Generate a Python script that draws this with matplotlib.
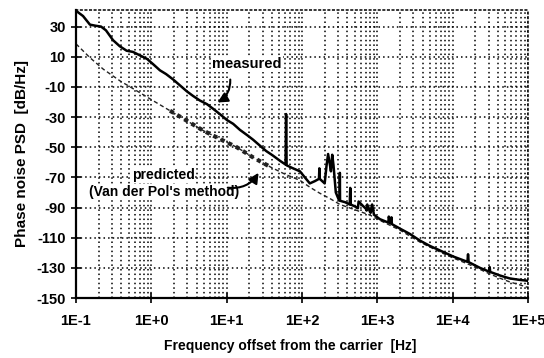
import numpy as np
import matplotlib
matplotlib.use("Agg")
import matplotlib.pyplot as plt
from matplotlib.ticker import LogLocator, FixedLocator, NullFormatter

# Measured phase noise PSD, spikes included
measured_hz = [0.1, 0.124, 0.153, 0.18, 0.215, 0.25, 0.31, 0.38, 0.47, 0.57,
               0.7, 0.88, 1.06, 1.3, 1.57, 1.94, 2.4, 2.97, 3.58, 4.4,
               5.5, 6.6, 8.1, 10.1, 12.2, 15, 18.7, 22.4, 27.7, 33.4,
               41, 51, 60.5, 61.5, 62.5, 76, 94, 109, 127, 148,
               168, 170, 172, 200, 212, 222, 232, 242, 252, 262,
               281, 306, 316, 318, 320, 375, 430, 437, 444, 540,
               552, 564, 709, 720, 735, 800, 815, 853, 900, 915,
               1080, 1400, 1420, 1480, 1540, 1560, 2000, 2700, 3700, 5000,
               6800, 10200, 15700, 16000, 16300, 23000, 30500, 31000, 31500, 42000,
               57000, 78000, 100000]
measured_db = [40.5, 37, 31.3, 30.6, 30, 27.5, 21, 17, 14, 13.2,
               11, 8.5, 5, 1, -1.5, -5, -9, -13, -16, -19,
               -21.5, -24.5, -28, -32, -34.5, -38.5, -42, -45, -49, -52.5,
               -55.5, -59, -61.5, -28, -62, -64, -66, -70, -74, -72.5,
               -71, -64, -71, -74, -62, -54.5, -60, -66, -55, -62,
               -80, -84.5, -85, -67, -85.5, -86.5, -88, -77, -88, -90,
               -90.5, -86, -91, -92, -88, -93, -93.5, -88, -94.5, -95,
               -97.7, -100, -96, -100.5, -96.5, -101, -104, -107.5, -112, -115.5,
               -118.5, -122.5, -126, -121, -126.2, -130, -132.5, -129.5, -132.7, -135,
               -137, -138, -138.6]

# Predicted (Van der Pol's method)
predicted_hz = [0.1, 0.107, 0.153, 0.231, 0.384, 0.64, 1.06, 1.77, 2.95, 4.9,
                8.1, 13.6, 22, 37.7, 60, 94, 127, 172, 234, 320,
                505, 800, 1080, 2000, 3700, 6800, 10200, 16000, 23000, 31000,
                42000, 57000, 78000, 100000]
predicted_db = [18.5, 17.1, 9.4, 1.7, -6, -12.6, -19.2, -25.8, -32.4, -39,
                -44.5, -50, -56.5, -63, -68, -72, -76.5, -80.5, -84, -88,
                -91.5, -95, -98.5, -105, -113, -119.5, -123.5, -127.5, -131, -134,
                -136.8, -139.3, -141.3, -143]

x_ticks = [1e-1, 1e0, 1e1, 1e2, 1e3, 1e4, 1e5]
x_labels = ["1E-1", "1E+0", "1E+1", "1E+2", "1E+3", "1E+4", "1E+5"]
y_ticks = [30, 10, -10, -30, -50, -70, -90, -110, -130, -150]

plt.rcParams['font.family'] = ['Liberation Sans', 'DejaVu Sans']
plt.rcParams['font.weight'] = 'bold'
plt.rcParams['axes.unicode_minus'] = False

fig = plt.figure(figsize=(5.44, 3.58), dpi=100)
ax = fig.add_axes([76/544, 1 - 298/358, 452/544, 288/358])

ax.set_xscale('log')
ax.set_xlim(1e-1, 1e5)
ax.set_ylim(-150, 41)

# grid
dots = (0, (1, 2))
ax.grid(True, which='major', axis='both', color='black', linestyle=dots, linewidth=1.1)
ax.grid(True, which='minor', axis='x', color='black', linestyle=dots, linewidth=1.1)
ax.set_axisbelow(True)

# curves
ax.plot(predicted_hz, predicted_db, color='#222222', linestyle=(0, (3, 2)), linewidth=1)
band = [i for i, f in enumerate(predicted_hz) if 1.5 <= f <= 40]
ax.plot([predicted_hz[i] for i in band], [predicted_db[i] for i in band],
        color='#222222', linestyle=(0, (1, 1)), linewidth=3)
ax.plot(measured_hz, measured_db, color='black', linewidth=1.8)

# ticks
ax.xaxis.set_major_locator(FixedLocator(x_ticks))
ax.set_xticklabels(x_labels)
ax.xaxis.set_minor_locator(LogLocator(base=10, subs=np.arange(2, 10)))
ax.xaxis.set_minor_formatter(NullFormatter())
ax.set_yticks(y_ticks)
ax.tick_params(axis='both', which='major', direction='inout', length=7, width=1.2,
               labelsize=10.5, pad=4)
ax.tick_params(axis='x', which='minor', length=0)
ax.tick_params(axis='x', which='major', pad=8)

for s in ['left', 'bottom']:
    ax.spines[s].set_linewidth(1.6)
for s in ['top', 'right']:
    ax.spines[s].set_linestyle(dots)
    ax.spines[s].set_linewidth(1.1)

ax.set_xlabel('Frequency offset from the carrier  [Hz]', fontsize=10, fontweight='bold')
ax.xaxis.set_label_coords(0.473, -0.142)
ax.set_ylabel('Phase noise PSD  [dB/Hz]', fontsize=11, fontweight='bold')
ax.yaxis.set_label_coords(-0.105, 0.5)

# annotations
ax.text(18.7, 5.2, 'measured', fontsize=10.5, fontweight='bold', ha='center', va='center',
        bbox=dict(facecolor='white', edgecolor='none', pad=1))
ax.annotate('', xy=(7.0, -21.2), xytext=(11.1, -3.3),
            arrowprops=dict(arrowstyle='-|>,head_length=0.6,head_width=0.3', color='black',
                            lw=1.5, connectionstyle='arc3,rad=-0.35'))
ax.text(1.43, -68.7, 'predicted', fontsize=10, fontweight='bold', ha='center', va='center',
        bbox=dict(facecolor='white', edgecolor='none', pad=0.5))
ax.text(1.47, -80, "(Van der Pol's method)", fontsize=10, fontweight='bold',
        ha='center', va='center', bbox=dict(facecolor='white', edgecolor='none', pad=0.5))
ax.annotate('', xy=(27.7, -65.4), xytext=(9.5, -76.6),
            arrowprops=dict(arrowstyle='-|>,head_length=0.6,head_width=0.3', color='black',
                            lw=1.5, connectionstyle='arc3,rad=0.35'))

fig.savefig('out.png', dpi=100)
